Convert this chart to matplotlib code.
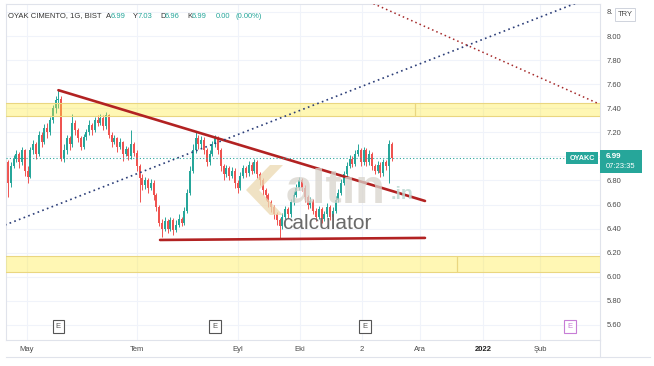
import matplotlib
matplotlib.use("Agg")
import matplotlib.pyplot as plt
import numpy as np

plt.rcParams['font.family'] = ['Liberation Sans', 'DejaVu Sans']

# daily closes (bar index 0 = late April 2021)
closes = [6.78, 6.92, 6.98, 7.02, 6.95, 7.05, 6.88, 6.83, 7.05, 7.10,
          7.02, 7.18, 7.12, 7.24, 7.20, 7.30, 7.40, 7.47, 7.48, 6.98,
          7.05, 7.15, 7.10, 7.28, 7.22, 7.15, 7.08, 7.16, 7.20, 7.26,
          7.22, 7.30, 7.28, 7.32, 7.25, 7.34, 7.18, 7.12, 7.15, 7.08,
          7.12, 7.02, 7.06, 7.00, 7.10, 7.03, 6.92, 6.82, 6.76, 6.80,
          6.74, 6.78, 6.68, 6.58, 6.45, 6.40, 6.46, 6.40, 6.47, 6.39,
          6.43, 6.48, 6.45, 6.55, 6.70, 6.88, 7.05, 7.15, 7.10, 7.14,
          7.05, 6.95, 7.02, 7.10, 7.15, 7.05, 6.92, 6.85, 6.90, 6.84,
          6.88, 6.78, 6.74, 6.84, 6.90, 6.86, 6.93, 6.88, 6.95, 6.85,
          6.80, 6.72, 6.68, 6.62, 6.58, 6.52, 6.47, 6.42, 6.50, 6.56,
          6.52, 6.62, 6.68, 6.74, 6.80, 6.74, 6.66, 6.60, 6.63, 6.55,
          6.50, 6.56, 6.48, 6.52, 6.58, 6.50, 6.55, 6.64, 6.70, 6.78,
          6.85, 6.92, 6.98, 6.94, 7.02, 7.05, 6.95, 7.05, 6.95, 7.02,
          6.92, 6.88, 6.93, 6.86, 6.95, 6.92, 7.10, 6.99]
highs = [6.97, 6.95, 7.01, 7.05, 7.04, 7.08, 7.06, 6.92, 7.08, 7.14,
         7.12, 7.21, 7.20, 7.27, 7.28, 7.33, 7.43, 7.50, 7.55, 7.50,
         7.10, 7.18, 7.17, 7.35, 7.30, 7.24, 7.17, 7.19, 7.23, 7.30,
         7.28, 7.33, 7.34, 7.35, 7.34, 7.37, 7.35, 7.20, 7.18, 7.16,
         7.15, 7.13, 7.09, 7.08, 7.22, 7.12, 7.05, 6.94, 6.85, 6.83,
         6.82, 6.81, 6.80, 6.70, 6.60, 6.48, 6.50, 6.48, 6.50, 6.49,
         6.47, 6.52, 6.50, 6.58, 6.73, 6.92, 7.10, 7.20, 7.18, 7.17,
         7.16, 7.07, 7.05, 7.13, 7.18, 7.17, 7.07, 6.94, 6.93, 6.92,
         6.91, 6.90, 6.80, 6.87, 6.93, 6.92, 6.96, 6.95, 6.98, 6.97,
         6.87, 6.82, 6.74, 6.70, 6.64, 6.60, 6.54, 6.49, 6.53, 6.59,
         6.58, 6.65, 6.71, 6.77, 6.83, 6.82, 6.76, 6.68, 6.66, 6.65,
         6.57, 6.59, 6.58, 6.55, 6.61, 6.60, 6.58, 6.67, 6.73, 6.81,
         6.88, 6.95, 7.01, 7.00, 7.05, 7.10, 7.07, 7.08, 7.07, 7.05,
         7.04, 6.94, 6.96, 6.95, 6.98, 6.97, 7.14, 7.12]
lows = [6.66, 6.75, 6.90, 6.95, 6.90, 6.93, 6.84, 6.78, 6.82, 7.02,
        6.98, 7.00, 7.08, 7.10, 7.15, 7.18, 7.28, 7.36, 7.40, 6.96,
        6.95, 7.02, 7.05, 7.08, 7.18, 7.12, 7.05, 7.06, 7.14, 7.18,
        7.18, 7.20, 7.25, 7.26, 7.22, 7.23, 7.15, 7.08, 7.10, 7.04,
        7.06, 6.96, 7.00, 6.97, 6.98, 7.00, 6.88, 6.62, 6.72, 6.73,
        6.70, 6.72, 6.64, 6.55, 6.42, 6.33, 6.38, 6.36, 6.38, 6.35,
        6.37, 6.41, 6.42, 6.43, 6.53, 6.68, 6.86, 7.03, 7.06, 7.07,
        7.02, 6.92, 6.93, 7.00, 7.08, 7.02, 6.88, 6.80, 6.83, 6.80,
        6.82, 6.74, 6.70, 6.72, 6.82, 6.83, 6.84, 6.85, 6.86, 6.82,
        6.76, 6.68, 6.64, 6.58, 6.54, 6.48, 6.43, 6.31, 6.40, 6.48,
        6.49, 6.50, 6.60, 6.66, 6.72, 6.71, 6.62, 6.56, 6.57, 6.52,
        6.46, 6.48, 6.45, 6.46, 6.50, 6.47, 6.48, 6.53, 6.62, 6.68,
        6.76, 6.83, 6.90, 6.91, 6.92, 7.00, 6.92, 6.93, 6.92, 6.93,
        6.89, 6.85, 6.86, 6.83, 6.84, 6.89, 6.78, 6.96]
first_open = 6.95
opens = [first_open] + closes[:-1]

last_price = 6.99
countdown = "07:23:35"

# header legend values
header_title = "OYAK CIMENTO, 1G, BIST"
ohlc_keys = ["A", "Y", "D", "K"]
ohlc_vals = ["6.99", "7.03", "6.96", "6.99"]
change_txt = ["0.00", "(0.00%)"]

# month labels and their bar positions
date_labels = ["May", "Tem", "Eyl", "Eki", "2", "Ara", "2022", "Şub"]
date_pos = [6.8, 46.1, 82.1, 104.3, 126.4, 147.1, 169.6, 190.0]

# earnings events (bar index)
earn_pos = [17.9, 73.9, 127.5, 200.7]

# drawings: (bar, price) pairs
res_line = [(18.0, 7.55), (148.9, 6.63)]
sup_line = [(54.3, 6.306), (148.9, 6.323)]
blue_dots = [(-1.1, 6.43), (202.5, 8.27)]
red_dots = [(127.5, 8.30), (210.7, 7.44)]
zone_top = (7.336, 7.445, 145.4)
zone_bot = (6.04, 6.173, 160.4)

W, H = 654, 366
up_col, dn_col = "#26a69a", "#ef5350"


def fx(x):
    return x / W


def fy(y):
    return 1 - y / H


fig = plt.figure(figsize=(W / 100, H / 100), dpi=100)
ax = fig.add_axes([fx(6), fy(340), 594 / W, 336 / H])
ax.set_xlim(-0.714, 211.4)
ax.set_ylim(5.475, 8.266)

# grid
yt = np.round(np.arange(5.6, 8.21, 0.2), 2)
for p in yt:
    ax.axhline(p, color="#f0f3fa", lw=0.8, zorder=0)
for d in date_pos:
    ax.axvline(d, color="#f0f3fa", lw=0.8, zorder=0)

# candles
x = np.arange(len(closes))
o = np.array(opens)
c = np.array(closes)
cols = [up_col if cc >= oo else dn_col for oo, cc in zip(o, c)]
ax.vlines(x, lows, highs, colors=cols, lw=0.7, zorder=2)
ax.bar(x, np.maximum(np.abs(c - o), 0.006), bottom=np.minimum(o, c),
       width=0.7, color=cols, zorder=2, linewidth=0)

# yellow zones
for lo, hi, split in (zone_top, zone_bot):
    for x0, x1 in ((-1, split), (split, 212)):
        ax.add_patch(plt.Rectangle((x0, lo), x1 - x0, hi - lo, facecolor="#ffeb3b",
                                   alpha=0.38, edgecolor="none", zorder=3))
        ax.add_patch(plt.Rectangle((x0, lo), x1 - x0, hi - lo, facecolor="none",
                                   edgecolor="#ead680", lw=0.8, zorder=3))

# trend lines
for seg in (res_line, sup_line):
    ax.plot([seg[0][0], seg[1][0]], [seg[0][1], seg[1][1]],
            color="#b22222", lw=1.9, zorder=4, solid_capstyle="round")
ax.plot([p[0] for p in blue_dots], [p[1] for p in blue_dots],
        color="#2c3e78", lw=1.2, ls=(0, (1, 2)), zorder=4)
ax.plot([p[0] for p in red_dots], [p[1] for p in red_dots],
        color="#a52a2a", lw=1.1, ls=(0, (1, 2)), zorder=4)

# last price line
ax.axhline(last_price, color=up_col, lw=0.8, ls=(0, (1, 2)), zorder=4)

# earnings markers
for i, e in enumerate(earn_pos):
    ec = "#c77dd6" if i == len(earn_pos) - 1 else "#555555"
    ax.text(e, 5.585, "E", fontsize=5.5, color=ec, ha="center", va="center",
            zorder=6, bbox=dict(boxstyle="square,pad=0.4", fc="white", ec=ec, lw=0.8))

# axes styling
for s in ax.spines.values():
    s.set_color("#e0e3eb")
    s.set_linewidth(0.8)
ax.yaxis.tick_right()
ax.set_yticks(yt)
ax.set_yticklabels([f"{p:.2f}" if p < 8.1 else "8." for p in yt])
ax.tick_params(axis="y", length=0, pad=5, labelsize=5.5, labelcolor="#4a4a4a")
ax.set_xticks(date_pos)
ax.set_xticklabels(date_labels)
ax.tick_params(axis="x", length=0, pad=4, labelsize=5.5, labelcolor="#4a4a4a")
for lbl in ax.get_xticklabels():
    if lbl.get_text() == "2022":
        lbl.set_color("#222222")
        lbl.set_fontweight("bold")

# watermark
logo = plt.Polygon([(fx(270), fy(165)), (fx(283), fy(165)), (fx(259), fy(190)),
                    (fx(283), fy(215)), (fx(270), fy(215)), (fx(246), fy(190))],
                   closed=True, transform=fig.transFigure, fc="#ecd9b0", ec="none",
                   alpha=0.75, zorder=5)
fig.patches.append(logo)
fig.text(fx(286), fy(203), "altın", fontsize=35, fontweight="bold", color="#d8d4cc",
         alpha=0.75, va="baseline", ha="left", zorder=5)
fig.text(fx(391), fy(199), ".in", fontsize=14, fontweight="bold", color="#bcd9d2",
         alpha=0.85, va="baseline", ha="left", zorder=5)
fig.text(fx(282), fy(229), "calculator", fontsize=15, color="#6a6a6a",
         va="baseline", ha="left", zorder=5)

# header legend
fig.text(fx(8), fy(16), header_title, fontsize=5.5, color="#333333",
         va="center", ha="left")
key_x = [106, 133, 160, 187]
for k, v, px in zip(ohlc_keys, ohlc_vals, key_x):
    fig.text(fx(px), fy(16), k, fontsize=5.5, color="#333333", va="center", ha="left")
    fig.text(fx(px + 5), fy(16), v, fontsize=5.5, color=up_col, va="center", ha="left")
for t, px in zip(change_txt, [216, 236]):
    fig.text(fx(px), fy(16), t, fontsize=5.5, color=up_col, va="center", ha="left")

# price axis boxes
fig.patches.append(plt.Rectangle((fx(600), fy(173)), 42 / W, 23 / H,
                                 transform=fig.transFigure, fc=up_col, ec="none", zorder=7))
fig.text(fx(606), fy(157), f"{last_price:.2f}", fontsize=5.8, color="white",
         fontweight="bold", va="center", ha="left", zorder=8)
fig.text(fx(606), fy(167), countdown, fontsize=5.5, color="white",
         va="center", ha="left", zorder=8)
fig.patches.append(plt.Rectangle((fx(566), fy(164)), 32 / W, 12 / H,
                                 transform=fig.transFigure, fc=up_col, ec="none", zorder=7))
fig.text(fx(582), fy(158), "OYAKC", fontsize=5.2, color="white", fontweight="bold",
         va="center", ha="center", zorder=8)
fig.patches.append(plt.Rectangle((fx(615), fy(21)), 20 / W, 13 / H,
                                 transform=fig.transFigure, fc="white", ec="#cfd3dc",
                                 lw=0.7, zorder=7))
fig.text(fx(625), fy(14.5), "TRY", fontsize=5.5, color="#4a4a4a",
         va="center", ha="center", zorder=8)

# outer frame lines
fig.add_artist(plt.Line2D([fx(6), fx(650)], [fy(357), fy(357)], color="#e0e3eb", lw=0.8))
fig.add_artist(plt.Line2D([fx(600), fx(600)], [fy(340), fy(357)], color="#e0e3eb", lw=0.8))

fig.savefig("out.png", dpi=100, facecolor="white")
